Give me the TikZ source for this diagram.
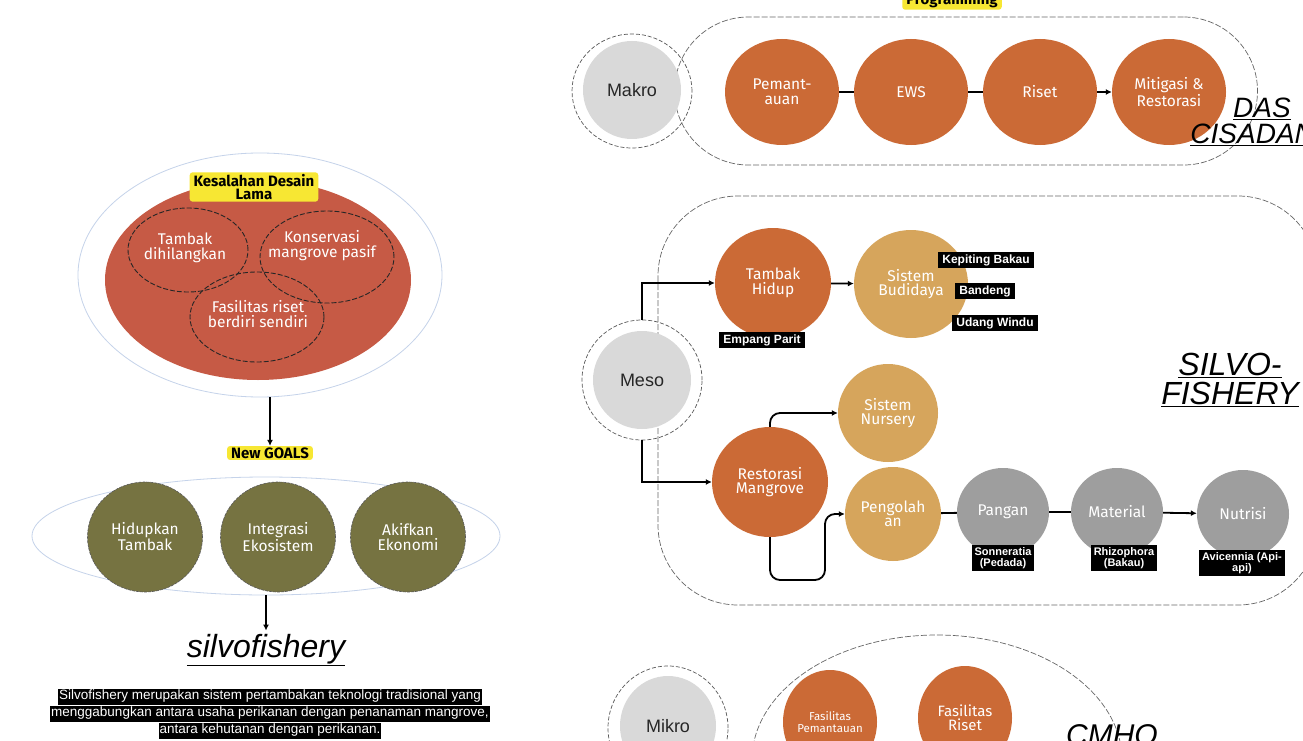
\documentclass[tikz,border=0pt]{standalone}
\usepackage{fontspec}
\setmainfont{Liberation Sans}
\newfontfamily\circfont{Fira Sans}
\newfontfamily\arialfont{Liberation Sans}
\usetikzlibrary{shapes.geometric,arrows.meta}
\definecolor{orangeC}{HTML}{CB6A36}
\definecolor{tanC}{HTML}{D6A55C}
\definecolor{grayC}{HTML}{9E9E9E}
\definecolor{lightG}{HTML}{D9D9D9}
\definecolor{redC}{HTML}{C65A45}
\definecolor{oliveC}{HTML}{767341}
\definecolor{yellowC}{HTML}{F7E733}
\definecolor{blueL}{HTML}{C5D3EA}
\newcommand\blkline[1]{{\setlength{\fboxsep}{1pt}\colorbox{black}{\strut #1}}}
\tikzset{
 circ/.style={ellipse, inner sep=-10pt, align=center, font=\circfont\fontsize{15.5}{14.5}\selectfont, text=white},
 orangec/.style={circ, fill=orangeC},
 tanc/.style={circ, fill=tanC},
 grayc/.style={circ, fill=grayC},
 olivec/.style={circ, fill=oliveC, draw=black!65, line width=0.6pt, dash pattern=on 3pt off 1pt},
 levelc/.style={ellipse, fill=lightG, inner sep=0pt, font=\arialfont\fontsize{18}{20}\selectfont, text=black!85},
 levelring/.style={ellipse, draw=black!65, line width=0.7pt, dash pattern=on 4pt off 2pt, inner sep=0pt},
 venn/.style={ellipse, draw=black!85, line width=0.9pt, dash pattern=on 5pt off 2pt, inner sep=0pt},
 vtext/.style={font=\circfont\fontsize{15.5}{15}\selectfont, text=white, align=center},
 ylabel/.style={fill=yellowC, rounded corners=3pt, font=\circfont\bfseries\fontsize{15}{13}\selectfont, align=center, inner xsep=4pt, inner ysep=2pt},
 blabel/.style={fill=black, text=white, font=\arialfont\bfseries\fontsize{11}{11}\selectfont, align=center, inner xsep=3pt, inner ysep=2pt},
 blabelL/.style={blabel, font=\arialfont\bfseries\fontsize{12}{12}\selectfont, inner xsep=4pt},
 titletext/.style={font=\arialfont\itshape\fontsize{32}{29}\selectfont, align=center},
 conn/.style={line width=1.8pt, black},
 arr/.style={conn, -{Latex[length=6pt,width=6pt]}},
 stadium/.style={draw=black!60, line width=0.7pt, dash pattern=on 6pt off 2pt}
}
\begin{document}
\begin{tikzpicture}[x=1pt,y=-1pt]
\fill[white] (0,0) rectangle (1303,741);
\useasboundingbox (0,0) rectangle (1303,741);

% ---------- left part ----------
\node[ellipse, draw=blueL, line width=0.8pt, minimum width=364, minimum height=244, inner sep=0pt] (outerA) at (260,275) {};
\node[ellipse, fill=redC, minimum width=306, minimum height=200, inner sep=0pt] (redE) at (258,280) {};
\node[venn, minimum width=120, minimum height=84] (v1) at (188,250) {};
\node[venn, minimum width=134, minimum height=92] (v2) at (327,257) {};
\node[venn, minimum width=134, minimum height=90] (v3) at (257,317) {};
\node[vtext] (t1) at (185,248) {Tambak\\dihilangkan};
\node[vtext] (t2) at (322,246) {Konservasi\\mangrove pasif};
\node[vtext] (t3) at (258,314) {Fasilitas riset\\berdiri sendiri};
\node[ylabel] (kes) at (254,187) {Kesalahan Desain\\Lama};
\node[ylabel, inner ysep=1.5pt] (goals) at (270,453) {New GOALS};
\draw[arr] (outerA.south -| goals.north) -- (goals.north);

\node[ellipse, draw=blueL, line width=0.8pt, minimum width=468, minimum height=118, inner sep=0pt] (outerB) at (266,536) {};
\node[olivec, minimum width=115, minimum height=110] (g1) at (145,537) {Hidupkan\\Tambak};
\node[olivec, minimum width=115, minimum height=110] (g2) at (278,537) {Integrasi\\Ekosistem};
\node[olivec, minimum width=115, minimum height=110] (g3) at (408,537) {Akifkan\\Ekonomi};
\node[font=\arialfont\itshape\fontsize{32}{34}\selectfont] (silvo) at (266,650) {\underline{silvofishery}};
\draw[arr] (outerB.south) -- (silvo.north);
\node[font=\arialfont\fontsize{13.5}{14}\selectfont, text=white, align=center, inner sep=0pt] (desc) at (270,714)
 {\blkline{Silvofishery merupakan sistem pertambakan teknologi tradisional yang}\\
  \blkline{menggabungkan antara usaha perikanan dengan penanaman mangrove,}\\
  \blkline{antara kehutanan dengan perikanan.}};

% ---------- top right: Makro ----------
\node[ylabel, font=\circfont\bfseries\fontsize{15}{15}\selectfont] (prog) at (952,0) {Programming};
\node[stadium, rounded corners=74, minimum width=583, minimum height=148, inner sep=0pt] (stadA) at (966,91) {};
\node[levelring, minimum width=120, minimum height=114] (makroR) at (632,91) {};
\node[levelc, minimum width=98, minimum height=98] (makro) at (632,90) {Makro};
\node[orangec, minimum width=114, minimum height=106] (pem) at (782,92) {Pemant-\\auan};
\node[orangec, minimum width=114, minimum height=106] (ews) at (911,92) {EWS};
\node[orangec, minimum width=114, minimum height=106] (ris) at (1040,92) {Riset};
\node[orangec, minimum width=114, minimum height=106] (mit) at (1169,92) {Mitigasi \&\\Restorasi};
\draw[conn] (pem) -- (ews);
\draw[conn] (ews) -- (ris);
\draw[arr] (ris) -- (mit);
\node[titletext, font=\arialfont\itshape\fontsize{28}{26}\selectfont] (das) at (1262,122) {\underline{DAS}\\\underline{CISADANE}};

% ---------- middle: Meso ----------
\draw[stadium, rounded corners=80] (658,196) rectangle (1318,605);
\node[levelring, minimum width=120, minimum height=120] (mesoR) at (642,380) {};
\node[levelc, minimum width=98, minimum height=98] (meso) at (642,380) {Meso};
\node[orangec, minimum width=116, minimum height=110] (tam) at (773,283) {Tambak\\Hidup};
\node[tanc, minimum width=114, minimum height=108] (bud) at (911,284) {Sistem\\Budidaya};
\node[blabelL] (emp) at (762,340) {Empang Parit};
\node[blabelL] (kep) at (986,260) {Kepiting Bakau};
\node[blabelL] (ban) at (985,291) {Bandeng};
\node[blabelL] (uda) at (995,323) {Udang Windu};
\node[tanc, minimum width=100, minimum height=98] (nur) at (888,413) {Sistem\\Nursery};
\node[orangec, minimum width=116, minimum height=110] (res) at (770,482) {Restorasi\\Mangrove};
\node[tanc, minimum width=96, minimum height=94] (peng) at (893,514) {Pengolah\\an};
\node[grayc, minimum width=92, minimum height=88] (pan) at (1003,512) {Pangan};
\node[grayc, minimum width=92, minimum height=88] (mat) at (1117,512) {Material};
\node[grayc, minimum width=92, minimum height=88] (nut) at (1243,514) {Nutrisi};
\draw[conn] (peng) -- (pan);
\draw[conn] (pan) -- (mat);
\draw[arr] (mat) -- (nut);
\node[blabel] (son) at (1003,558) {Sonneratia\\(Pedada)};
\node[blabel] (rhi) at (1124,558) {Rhizophora\\(Bakau)};
\node[blabel] (avi) at (1242,563) {Avicennia (Api-\\api)};
\node[titletext] (sf) at (1230,380) {\underline{SILVO-}\\\underline{FISHERY}};

\draw[arr] (mesoR.north) |- (tam.west);
\draw[arr] (tam) -- (bud);
\draw[arr] (mesoR.south) |- (res.west);
\draw[arr, rounded corners=10] (res.north) |- (nur.west);
\coordinate (bend) at (825,580);
\draw[arr, rounded corners=10] (res.south) |- (bend) |- (peng.west);

% ---------- bottom: Mikro ----------
\node[levelring, minimum width=120, minimum height=124] (mikroR) at (668,728) {};
\node[levelc, minimum width=96, minimum height=100] (mikro) at (668,726) {Mikro};
\node[ellipse, stadium, minimum width=370, minimum height=250, inner sep=0pt] (cmhoE) at (937,760) {};
\node[orangec, minimum width=94, minimum height=104, font=\circfont\fontsize{11.5}{11.5}\selectfont] (fp) at (830,722) {Fasilitas\\Pemantauan};
\node[orangec, minimum width=94, minimum height=104, font=\circfont\fontsize{15}{14}\selectfont] (fr) at (965,718) {Fasilitas\\Riset};
\node[titletext, font=\arialfont\itshape\fontsize{30}{30}\selectfont] (cmho) at (1112,735) {CMHO};
\end{tikzpicture}
\end{document}
